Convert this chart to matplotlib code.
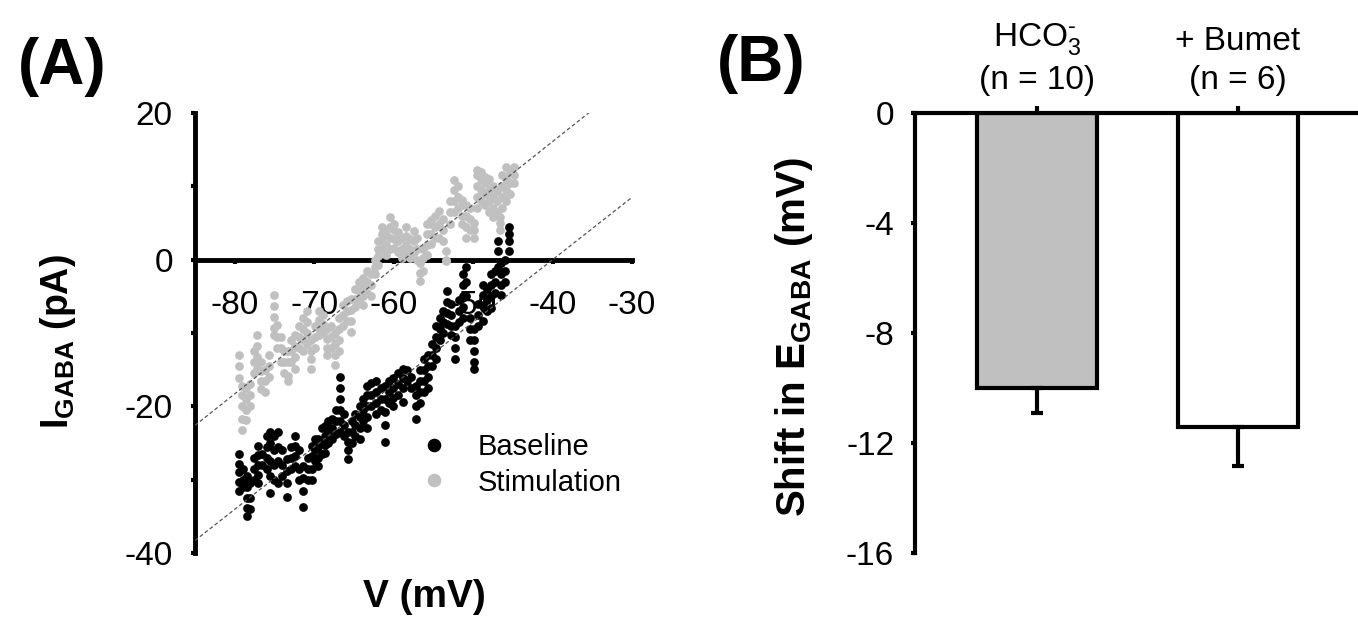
import numpy as np
import matplotlib
import matplotlib.pyplot as plt

matplotlib.use('Agg')

plt.rcParams['font.family'] = ['Liberation Sans', 'DejaVu Sans']
plt.rcParams['mathtext.fontset'] = 'custom'
plt.rcParams['mathtext.rm'] = 'Liberation Sans'
plt.rcParams['mathtext.bf'] = 'Liberation Sans:bold'
plt.rcParams['axes.unicode_minus'] = False

# --- panel A: I-V ramp, one column of points per voltage step (mV, pA) ---
base_v = [-79.4, -79.0, -78.5, -78.1, -77.6, -77.1, -76.6, -76.0, -75.6, -75.1,
          -74.6, -74.0, -73.4, -72.9, -72.4, -71.9, -71.4, -70.8, -70.3, -69.9,
          -69.5, -69.0, -68.6, -68.2, -67.8, -67.3, -66.8, -66.3, -65.8, -65.3,
          -64.8, -64.2, -63.8, -63.4, -62.8, -62.2, -61.6, -61.1, -60.6, -60.1,
          -59.5, -58.8, -58.3, -57.8, -57.2, -56.7, -56.2, -55.7, -55.2, -54.7,
          -54.2, -53.8, -53.3, -52.8, -52.3, -51.8, -51.3, -50.9, -50.4, -49.9,
          -49.4, -48.8, -48.3, -47.8, -47.3, -46.9, -46.5, -46.0, -45.5]
base_i = [[-26.5, -27.8, -29.0, -30.3, -31.5], [-28.5, -30.0, -31.0],
          [-29.5, -31.0, -32.5, -33.8, -35.0], [-30.5, -32.5, -34.0],
          [-27.0, -28.5, -30.0], [-25.4, -26.6, -28.0, -29.3, -30.4],
          [-26.5, -28.0], [-24.0, -25.5, -27.0, -28.5],
          [-23.5, -25.0, -27.5, -29.5, -31.8], [-24.0, -26.0, -28.0, -30.0],
          [-23.5, -25.5, -27.5, -30.4], [-26.0, -28.0, -29.5],
          [-27.2, -28.8, -30.5, -32.3], [-25.5, -27.0, -28.5],
          [-24.0, -25.4, -26.8, -28.2], [-26.0, -28.5, -30.0],
          [-28.2, -29.8, -31.5, -33.7], [-27.0, -28.5, -30.0],
          [-25.4, -26.8, -28.5, -30.0], [-24.5, -26.0, -27.5],
          [-24.5, -25.5, -27.0, -28.2], [-23.0, -24.8, -26.5],
          [-22.7, -24.0, -25.3, -26.3], [-22.0, -23.5, -25.0],
          [-21.7, -23.0, -24.5], [-20.5, -22.0, -23.8],
          [-16.0, -17.5, -19.0, -20.5, -22.0, -23.5], [-21.0, -22.5, -24.0],
          [-23.5, -24.8, -26.0, -27.2], [-22.0, -23.5, -25.0],
          [-21.0, -22.5, -24.0], [-20.0, -21.5, -23.0, -24.5],
          [-19.0, -20.5, -22.0], [-17.2, -18.5, -20.0, -21.5, -23.0],
          [-16.8, -18.5, -20.0], [-16.6, -18.0, -19.5, -21.0],
          [-17.5, -19.0, -20.5], [-17.2, -19.0, -20.8, -22.5, -24.9],
          [-16.5, -18.0, -19.5], [-16.2, -17.5, -18.8, -20.0],
          [-15.5, -17.0, -18.5], [-14.9, -16.2, -17.5, -19.4],
          [-15.0, -16.5], [-16.0, -17.5],
          [-17.2, -18.5, -20.0, -21.7], [-15.0, -16.5, -18.0, -19.5],
          [-13.5, -15.0, -16.5, -18.0], [-13.0, -14.5, -16.0, -17.5],
          [-11.5, -13.0, -14.5], [-9.0, -10.5, -12.0, -13.5],
          [-8.0, -9.5, -11.0], [-7.0, -8.5, -10.0],
          [-4.3, -5.8, -7.3, -8.8], [-6.0, -7.5, -9.0, -10.3],
          [-9.0, -10.5, -12.0, -13.5], [-5.5, -7.0, -8.5],
          [-2.0, -3.5, -5.0, -6.5, -8.0], [-1.0, -3.0, -5.0],
          [-8.0, -9.5, -11.0], [-9.5, -11.0, -12.5, -14.0, -14.9],
          [-6.0, -7.5, -9.0], [-3.4, -4.8, -6.2, -8.4],
          [-4.0, -5.5, -7.0], [-2.0, -3.5, -5.0, -6.6],
          [-1.5, -3.0, -4.5], [2.6, 1.2, -1.0],
          [-0.5, -2.0, -3.5, -4.8], [0.0, -1.5, -3.0],
          [1.2, 2.5, 3.5, 4.4]]

stim_v = [-79.5, -79.1, -78.6, -78.1, -77.6, -77.2, -76.7, -76.2, -75.7, -75.1,
          -74.7, -74.2, -73.8, -73.3, -72.9, -72.4, -71.9, -71.4, -70.9, -70.4,
          -69.9, -69.4, -68.9, -68.4, -67.9, -67.4, -66.9, -66.4, -65.9, -65.4,
          -64.9, -64.4, -63.9, -63.4, -62.9, -62.4, -62.0, -61.5, -61.0, -60.5,
          -60.0, -59.5, -59.0, -58.5, -58.0, -57.5, -57.1, -56.7, -56.3, -55.8,
          -55.3, -54.8, -54.3, -53.8, -53.4, -52.9, -52.4, -51.9, -51.4, -50.9,
          -50.4, -49.9, -49.5, -49.0, -48.5, -48.0, -47.5, -47.0, -46.6, -46.3,
          -45.8, -45.3, -44.8]
stim_i = [[-13.0, -14.5, -16.2], [-17.2, -18.5, -20.0, -21.7, -23.2],
          [-17.5, -19.0, -20.5, -21.8], [-17.0, -18.5, -20.0],
          [-12.5, -14.0, -15.5], [-10.3, -11.8, -13.3, -14.9],
          [-13.9, -15.2, -16.5, -17.6], [-15.0, -16.5, -18.0],
          [-13.0, -14.5, -16.0], [-4.8, -6.3, -7.8, -9.3, -10.3],
          [-8.9, -10.5, -12.0], [-10.5, -12.0, -13.9],
          [-12.5, -14.0, -15.5], [-12.5, -14.0, -15.8, -16.6],
          [-11.0, -12.5, -14.0], [-10.3, -11.8, -13.3, -14.9],
          [-9.0, -10.5, -12.0], [-8.0, -9.5, -11.0, -12.5],
          [-7.0, -8.5, -10.0, -11.5], [-11.0, -12.5, -13.5, -14.9],
          [-9.0, -10.5, -12.0], [-7.0, -8.2, -9.5, -10.3],
          [-7.5, -8.8, -10.0], [-9.4, -10.8, -12.0, -13.0],
          [-9.0, -10.5, -12.0], [-10.0, -11.5, -13.0, -14.4],
          [-8.0, -9.5, -11.0, -12.5], [-6.2, -7.5, -9.0],
          [-5.6, -7.0, -8.4], [-5.3, -6.8, -8.3, -9.9],
          [-4.0, -5.3, -6.5], [-3.0, -4.3, -5.6],
          [-2.5, -3.8, -5.0, -6.2], [-1.5, -3.0, -4.5],
          [-2.0, -3.5, -5.0], [0.0, -1.0, -2.0],
          [1.5, 2.5, 0.5, -0.7], [2.5, 3.5, 4.5, 1.5],
          [0.7, 2.0, 3.2, 3.9], [1.5, 3.0, 4.5, 5.8],
          [1.6, 2.8, 4.0, 4.8], [1.0, 2.5, 3.8],
          [0.2, 1.5, 3.0], [0.7, 2.0, 3.2, 4.5],
          [0.2, 1.5, 2.8], [1.1, 2.5, 3.9],
          [0.0, 1.5, 3.0], [-0.5, -1.8, -2.9],
          [-1.5, 0.2, 1.5], [0.7, 2.0, 3.5, 4.8],
          [2.1, 3.5, 4.8, 5.4], [3.0, 4.5, 6.0],
          [3.0, 4.8, 6.7], [2.5, 4.0, 5.5],
          [1.2, 0.0, -0.2], [4.8, 6.5, 8.0],
          [6.5, 8.0, 9.5, 10.9], [7.1, 8.5, 10.0],
          [4.8, 6.0, 7.5, 8.1], [3.0, 4.5, 6.0, 7.5],
          [4.0, 5.5, 7.0], [3.0, 4.0, 5.0],
          [7.1, 8.5, 10.0, 11.5, 12.2], [8.0, 9.5, 11.0, 12.0],
          [7.5, 9.0, 10.5, 11.3], [6.5, 8.0, 9.5, 11.0],
          [5.8, 7.0, 8.5, 10.0], [6.5, 8.0, 9.4],
          [4.0, 5.0, 5.8], [7.1, 8.5, 10.0, 11.5],
          [8.0, 9.5, 11.0, 12.6], [9.0, 10.5, 12.0],
          [10.5, 11.5, 12.6]]

# linear fits (end points at the axis limits)
fit_v = [-85, -30]
base_fit_i = [-38.3, 8.5]
stim_fit_i = [-22.6, 24.7]

xticks_a = [-80, -70, -60, -50, -40, -30]
yticks_a = [-40, -30, -20, -10, 0, 10, 20]
ylabels_a = ['-40', '', '-20', '', '0', '', '20']

# --- panel B: shift in E_GABA ---
groups = ['HCO$\\mathregular{_3^{\\text{-}}}$\n(n = 10)', '+ Bumet\n(n = 6)']
shift_mean = [-10.0, -11.4]
shift_sem = [0.9, 1.45]
bar_colors = ['#c0c0c0', 'white']
yticks_b = [0, -4, -8, -12, -16]

W, H = 1358, 622
fig = plt.figure(figsize=(W / 100, H / 100), dpi=100)

# ---------------- panel A ----------------
ax = fig.add_axes([195 / W, 69 / H, 437 / W, 440 / H])

sv = np.repeat(stim_v, [len(c) for c in stim_i])
si = np.concatenate(stim_i)
bv = np.repeat(base_v, [len(c) for c in base_i])
bi = np.concatenate(base_i)

ax.plot(sv, si, 'o', ms=6.3, mew=0, color='#c0c0c0', zorder=3, label='Stimulation')
ax.plot(bv, bi, 'o', ms=6.3, mew=0, color='black', zorder=3, label='Baseline')
ax.plot(fit_v, stim_fit_i, color='#555555', lw=0.9, ls=(0, (3, 2)), zorder=4)
ax.plot(fit_v, base_fit_i, color='#555555', lw=0.9, ls=(0, (3, 2)), zorder=4)

ax.set_xlim(-85, -30)
ax.set_ylim(-40, 20)
ax.spines['bottom'].set_position(('data', 0))
ax.spines['top'].set_visible(False)
ax.spines['right'].set_visible(False)
for s in ['left', 'bottom']:
    ax.spines[s].set_linewidth(3.5)
ax.set_xticks(xticks_a)
ax.set_xticklabels([str(t) for t in xticks_a])
ax.set_yticks(yticks_a)
ax.set_yticklabels(ylabels_a)
ax.tick_params(axis='x', direction='out', length=3, width=3, labelsize=24, pad=19)
ax.tick_params(axis='y', direction='out', length=3, width=3, labelsize=24, pad=13)

ax.set_xlabel('V (mV)', fontsize=28, fontweight='bold')
ax.xaxis.set_label_coords(0.526, -0.058)
ax.set_ylabel('$\\mathregular{I_{GABA}}$ (pA)', fontsize=27, fontweight='bold')
ax.yaxis.set_label_coords(-0.268, 0.48)

handles, labels = ax.get_legend_handles_labels()
ax.legend(handles[::-1], labels[::-1], loc='center left', bbox_to_anchor=(0.514, 0.2),
          frameon=False, fontsize=21, markerscale=1.55, handlelength=1,
          handletextpad=1.0, labelspacing=0.25, borderpad=0, borderaxespad=0)

# ---------------- panel B ----------------
bx = fig.add_axes([915 / W, 69 / H, 443 / W, 440 / H])
xpos = np.arange(len(groups))
bx.bar(xpos, shift_mean, width=0.6, color=bar_colors, edgecolor='black', linewidth=3, zorder=2)
bx.errorbar(xpos, shift_mean, yerr=[shift_sem, [0, 0]], fmt='none', ecolor='black',
            elinewidth=3, capsize=4.5, capthick=3, zorder=3)
bx.set_xlim(-0.607, 1.597)
bx.set_ylim(-16, 0)
bx.spines['right'].set_visible(False)
bx.spines['bottom'].set_visible(False)
for s in ['left', 'top']:
    bx.spines[s].set_linewidth(3)
bx.xaxis.tick_top()
bx.set_xticks(xpos)
bx.set_xticklabels(groups)
for lab in bx.get_xticklabels():
    lab.set_linespacing(1.35)
bx.set_yticks(yticks_b)
bx.set_yticklabels([str(t) for t in yticks_b])
bx.tick_params(axis='x', direction='out', length=5, width=3, labelsize=24, pad=7)
bx.tick_params(axis='y', direction='out', length=3, width=3, labelsize=24, pad=12)
bx.set_ylabel('Shift in $\\mathregular{E_{GABA}}$ (mV)', fontsize=29, fontweight='bold')
bx.yaxis.set_label_coords(-0.226, 0.49)

fig.text(62 / W, 1 - 67 / H, '(A)', fontsize=46, fontweight='bold', ha='center', va='center')
fig.text(761 / W, 1 - 64 / H, '(B)', fontsize=46, fontweight='bold', ha='center', va='center')

fig.savefig('out.png', dpi=100)
